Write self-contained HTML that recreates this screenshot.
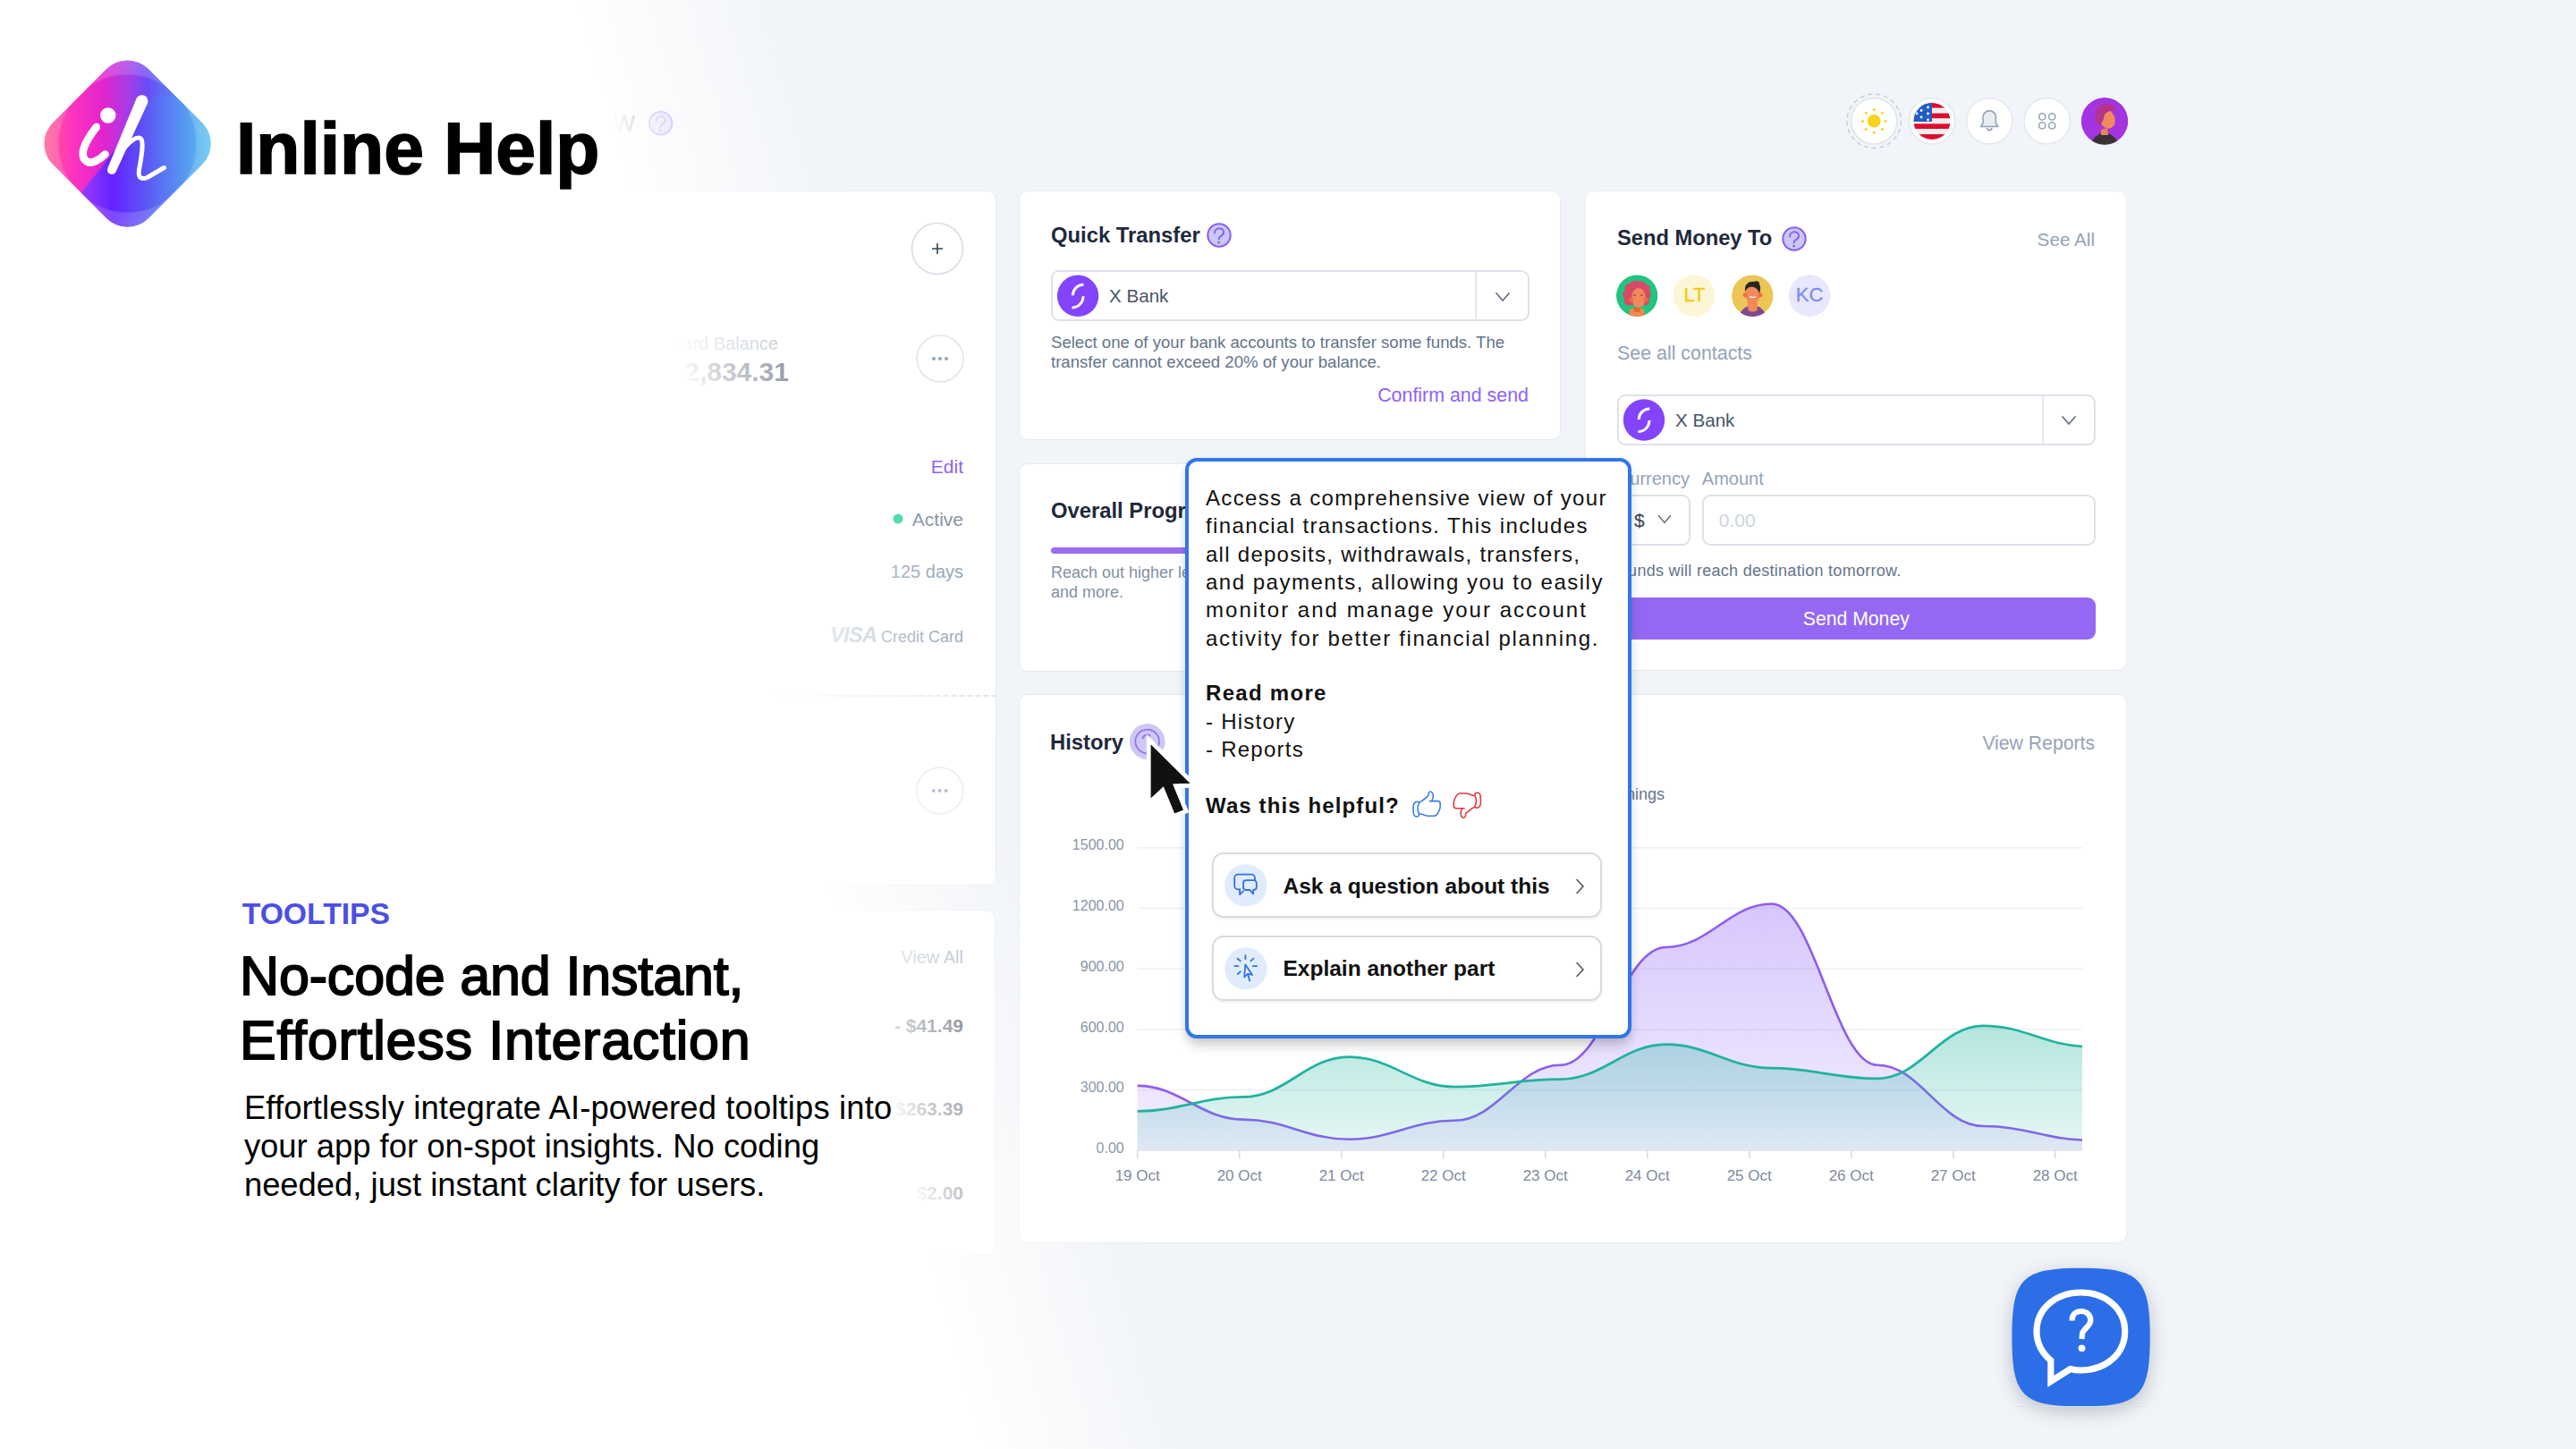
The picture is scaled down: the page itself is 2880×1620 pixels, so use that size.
<!DOCTYPE html>
<html><head><meta charset="utf-8"><title>Inline Help - Tooltips</title>
<style>
html,body{margin:0;padding:0;}
body{width:2880px;height:1620px;position:relative;overflow:hidden;background:#f1f4f8;font-family:"Liberation Sans",Arial,sans-serif;}
.t{position:absolute;white-space:nowrap;}
svg{display:block;}
</style></head><body>
<div class="t " style="top:115.32px;font-size:34px;line-height:40.8px;font-weight:400;color:#1e293b;right:2170px;text-align:right;">Overview</div>
<svg style="position:absolute;left:720px;top:120px;overflow:visible;" width="40" height="40" viewBox="720 120 40 40"><circle cx="738.7" cy="137.8" r="12.7" fill="#c9c8f4" stroke="#8b5cf6" stroke-width="2"/><path d="M733.70 135.40 C733.70 131.80 736.20 130.10 738.70 130.10 C741.70 130.10 743.90 132.00 743.90 134.60 C743.90 137.30 741.90 138.20 740.10 139.20 C738.80 140.00 738.30 140.80 738.30 142.20" fill="none" stroke="#8b5cf6" stroke-width="1.90" stroke-linecap="round"/><circle cx="738.30" cy="145.90" r="1.45" fill="#8b5cf6"/></svg>
<svg style="position:absolute;left:2060px;top:100px;overflow:visible;" width="330" height="75" viewBox="2060 100 330 75"><circle cx="2095.2" cy="135.4" r="30.2" fill="none" stroke="#c5ced9" stroke-width="1.5" stroke-dasharray="5 4"/><circle cx="2095.2" cy="135.4" r="25.6" fill="#fff" stroke="#dde3ea" stroke-width="1.5"/><circle cx="2095.2" cy="135.4" r="7.3" fill="#f9d21a"/><circle cx="2108.00" cy="135.40" r="1.5" fill="#f9d21a"/><circle cx="2104.25" cy="144.45" r="1.5" fill="#f9d21a"/><circle cx="2095.20" cy="148.20" r="1.5" fill="#f9d21a"/><circle cx="2086.15" cy="144.45" r="1.5" fill="#f9d21a"/><circle cx="2082.40" cy="135.40" r="1.5" fill="#f9d21a"/><circle cx="2086.15" cy="126.35" r="1.5" fill="#f9d21a"/><circle cx="2095.20" cy="122.60" r="1.5" fill="#f9d21a"/><circle cx="2104.25" cy="126.35" r="1.5" fill="#f9d21a"/><circle cx="2160" cy="135.4" r="25.6" fill="#fff" stroke="#e3e8ee" stroke-width="1.5"/><clipPath id="fc"><circle cx="2160" cy="135.4" r="20.5"/></clipPath><g clip-path="url(#fc)"><rect x="2138" y="114.90" width="45" height="5.9" fill="#dc0d2f"/><rect x="2138" y="120.76" width="45" height="5.9" fill="#eeeeee"/><rect x="2138" y="126.62" width="45" height="5.9" fill="#dc0d2f"/><rect x="2138" y="132.48" width="45" height="5.9" fill="#eeeeee"/><rect x="2138" y="138.34" width="45" height="5.9" fill="#dc0d2f"/><rect x="2138" y="144.20" width="45" height="5.9" fill="#eeeeee"/><rect x="2138" y="150.06" width="45" height="5.9" fill="#dc0d2f"/><rect x="2138" y="114" width="22" height="22" fill="#1f5fc6"/><circle cx="2155.5" cy="120" r="1.4" fill="#fff"/><circle cx="2148" cy="123.5" r="1.4" fill="#fff"/><circle cx="2155.5" cy="127" r="1.4" fill="#fff"/><circle cx="2148" cy="131" r="1.4" fill="#fff"/><circle cx="2155.5" cy="134" r="1.4" fill="#fff"/><circle cx="2143" cy="127" r="1.4" fill="#fff"/></g><circle cx="2224.2" cy="135.4" r="25.6" fill="#fff" stroke="#e3e8ee" stroke-width="1.5"/><path d="M2214.5 141.5 h19.4 l-2.5 -3.5 v-7 a7.2 7.2 0 0 0 -14.4 0 v7 z" fill="#e9edf2" stroke="#94a3b8" stroke-width="1.6" stroke-linejoin="round"/><path d="M2221.6 143 a2.6 2.6 0 0 0 5.2 0" fill="none" stroke="#94a3b8" stroke-width="1.6"/><circle cx="2288.7" cy="135.4" r="25.6" fill="#fff" stroke="#e3e8ee" stroke-width="1.5"/><circle cx="2283.2" cy="130.4" r="3.6" fill="none" stroke="#94a3b8" stroke-width="1.6"/><circle cx="2283.2" cy="140.4" r="3.6" fill="none" stroke="#94a3b8" stroke-width="1.6"/><circle cx="2294.2" cy="130.4" r="3.6" fill="none" stroke="#94a3b8" stroke-width="1.6"/><circle cx="2294.2" cy="140.4" r="3.6" fill="none" stroke="#94a3b8" stroke-width="1.6"/><clipPath id="ha"><circle cx="2353" cy="135.4" r="26.3"/></clipPath><g clip-path="url(#ha)"><circle cx="2353" cy="135.4" r="26.3" fill="#a334e0"/><path d="M2336 165 q3 -14 17 -17 q14 3 17 17 z" fill="#3a3232"/><path d="M2349 145 l7 -2 l1 8 l-8 0 z" fill="#e98659"/><ellipse cx="2356" cy="133" rx="8.5" ry="11" fill="#f08a5d" transform="rotate(-20 2356 133)"/><path d="M2343 128 q0 -12 12 -12 q10 0 11 8 q-8 -2 -13 4 q-2 10 -6 12 q-5 -3 -4 -12 z" fill="#b3338f"/></g></svg>
<div style="position:absolute;left:640px;top:213px;width:473.5px;height:777px;background:#fff;border:1.5px solid #e7ebf0;border-radius:10px;box-sizing:border-box;"></div>
<svg style="position:absolute;left:640px;top:213px;overflow:visible;" width="473" height="777" viewBox="640 213 473 777"><circle cx="1048" cy="278" r="28.5" fill="#fff" stroke="#d5dce5" stroke-width="1.5"/><path d="M1042 278 h12 M1048 272 v12" stroke="#334155" stroke-width="1.6"/><circle cx="1051" cy="401" r="26" fill="#fff" stroke="#e0e5ec" stroke-width="1.5"/><circle cx="1044" cy="401" r="2" fill="#94a3b8"/><circle cx="1051" cy="401" r="2" fill="#94a3b8"/><circle cx="1058" cy="401" r="2" fill="#94a3b8"/><circle cx="1050.7" cy="884" r="26" fill="#fff" stroke="#e0e5ec" stroke-width="1.5"/><circle cx="1043.7" cy="884" r="2" fill="#94a3b8"/><circle cx="1050.7" cy="884" r="2" fill="#94a3b8"/><circle cx="1057.7" cy="884" r="2" fill="#94a3b8"/><circle cx="1004" cy="580" r="5.5" fill="#34d3a0"/><line x1="640" y1="778" x2="1113" y2="778" stroke="#d5dbe3" stroke-width="1.5" stroke-dasharray="6 3"/></svg>
<div class="t " style="top:371.57px;font-size:20px;line-height:24.0px;font-weight:400;color:#94a3b8;right:2010px;text-align:right;">Card Balance</div>
<div class="t " style="top:398.21px;font-size:30px;line-height:36.0px;font-weight:700;color:#334155;right:1998px;text-align:right;">$12,834.31</div>
<div class="t " style="top:509.12px;font-size:21px;line-height:25.2px;font-weight:400;color:#9061f9;right:1803px;text-align:right;">Edit</div>
<div class="t " style="top:568.12px;font-size:21px;line-height:25.2px;font-weight:400;color:#8591a5;right:1803px;text-align:right;">Active</div>
<div class="t " style="top:626.77px;font-size:20px;line-height:24.0px;font-weight:400;color:#94a3b8;right:1803px;text-align:right;">125 days</div>
<div class="t " style="top:699.46px;font-size:18px;line-height:21.6px;font-weight:400;color:#94a3b8;right:1803px;text-align:right;"><span style="font-style:italic;font-weight:700;font-size:24px;color:#b8c2d0;letter-spacing:-1px">VISA</span> Credit Card</div>
<div style="position:absolute;left:640px;top:1017px;width:473px;height:387px;background:#fff;border:1.5px solid #e7ebf0;border-radius:10px;box-sizing:border-box;"></div>
<div class="t " style="top:1058.47px;font-size:20px;line-height:24.0px;font-weight:400;color:#94a3b8;right:1803px;text-align:right;">View All</div>
<div class="t " style="top:1134.12px;font-size:21px;line-height:25.2px;font-weight:700;color:#1e293b;right:1803px;text-align:right;">- $41.49</div>
<div class="t " style="top:1227.12px;font-size:21px;line-height:25.2px;font-weight:700;color:#1e293b;right:1803px;text-align:right;">- $263.39</div>
<div class="t " style="top:1320.82px;font-size:21px;line-height:25.2px;font-weight:700;color:#1e293b;right:1803px;text-align:right;">+ $2.00</div>
<div style="position:absolute;left:1138.5px;top:213px;width:606.5px;height:279px;background:#fff;border:1.5px solid #e7ebf0;border-radius:10px;box-sizing:border-box;"></div>
<div class="t " style="top:249.47px;font-size:23.8px;line-height:28.56px;font-weight:700;color:#1e293b;left:1175px;">Quick Transfer</div>
<div style="position:absolute;left:1175px;top:302px;width:535px;height:57px;border:2px solid #dde2e9;border-radius:9px;box-sizing:border-box;background:#fff;"></div>
<div style="position:absolute;left:1649px;top:303px;width:2px;height:55px;background:#e3e7ed;"></div>
<svg style="position:absolute;left:1160px;top:240px;overflow:visible;" width="580" height="130" viewBox="1160 240 580 130"><circle cx="1363" cy="263" r="12.7" fill="#c9c8f4" stroke="#8b5cf6" stroke-width="2"/><path d="M1358.00 260.60 C1358.00 257.00 1360.50 255.30 1363.00 255.30 C1366.00 255.30 1368.20 257.20 1368.20 259.80 C1368.20 262.50 1366.20 263.40 1364.40 264.40 C1363.10 265.20 1362.60 266.00 1362.60 267.40" fill="none" stroke="#8b5cf6" stroke-width="1.90" stroke-linecap="round"/><circle cx="1362.60" cy="271.10" r="1.45" fill="#8b5cf6"/><circle cx="1205.1" cy="330.8" r="23.2" fill="#8444fd"/><path d="M1211.3999999999999 318.2 A12 12 0 0 0 1199.3999999999999 330.2" fill="none" stroke="#fff" stroke-width="3" stroke-linecap="butt"/><path d="M1211.0 331.3 A12.4 12.4 0 0 1 1198.5 343.90000000000003" fill="none" stroke="#fff" stroke-width="3" stroke-linecap="butt"/><polyline points="1673 328 1680 336 1687 328" fill="none" stroke="#64748b" stroke-width="1.8" stroke-linecap="round" stroke-linejoin="round"/></svg>
<div class="t " style="top:318.50px;font-size:20.6px;line-height:24.72px;font-weight:400;color:#475569;left:1240px;">X Bank</div>
<div class="t " style="top:371.56px;font-size:18.6px;line-height:22px;font-weight:400;color:#64748b;left:1175px;">Select one of your bank accounts to transfer some funds. The<br>transfer cannot exceed 20% of your balance.</div>
<div class="t " style="top:430.04px;font-size:21.4px;line-height:25.68px;font-weight:400;color:#9061f9;right:1171px;text-align:right;">Confirm and send</div>
<div style="position:absolute;left:1138.5px;top:518px;width:606.5px;height:232.5px;background:#fff;border:1.5px solid #e7ebf0;border-radius:10px;box-sizing:border-box;"></div>
<div class="t " style="top:556.77px;font-size:23.8px;line-height:28.56px;font-weight:700;color:#1e293b;left:1175px;">Overall Progress</div>
<div style="position:absolute;left:1175px;top:612px;width:535px;height:6.5px;background:#ece7fd;border-radius:4px;"></div>
<div style="position:absolute;left:1175px;top:612px;width:420px;height:6.5px;background:#9b6cf2;border-radius:4px;"></div>
<div class="t " style="top:629.06px;font-size:18px;line-height:22px;font-weight:400;color:#8491a5;left:1175px;">Reach out higher levels of savings, investments<br>and more.</div>
<div style="position:absolute;left:1772px;top:213px;width:606px;height:537px;background:#fff;border:1.5px solid #e7ebf0;border-radius:10px;box-sizing:border-box;"></div>
<div class="t " style="top:252.07px;font-size:23.7px;line-height:28.44px;font-weight:700;color:#1e293b;left:1808px;">Send Money To</div>
<div class="t " style="top:256.41px;font-size:20.7px;line-height:24.84px;font-weight:400;color:#94a3b8;right:538px;text-align:right;">See All</div>
<svg style="position:absolute;left:1790px;top:240px;overflow:visible;" width="560" height="120" viewBox="1790 240 560 120"><circle cx="2006" cy="267" r="12.7" fill="#c9c8f4" stroke="#8b5cf6" stroke-width="2"/><path d="M2001.00 264.60 C2001.00 261.00 2003.50 259.30 2006.00 259.30 C2009.00 259.30 2011.20 261.20 2011.20 263.80 C2011.20 266.50 2009.20 267.40 2007.40 268.40 C2006.10 269.20 2005.60 270.00 2005.60 271.40" fill="none" stroke="#8b5cf6" stroke-width="1.90" stroke-linecap="round"/><circle cx="2005.60" cy="275.10" r="1.45" fill="#8b5cf6"/><clipPath id="av1"><circle cx="1830.2" cy="330.6" r="23.3"/></clipPath><g clip-path="url(#av1)"><circle cx="1830.2" cy="330.6" r="23.3" fill="#22c47f"/><path d="M1821 356 L1822 346 Q1830 342 1838 346 L1839 356 Z" fill="#f0894f"/><path d="M1826 344 L1834 344 L1833 349 L1827 349 Z" fill="#e2692d"/><path d="M1816 333 C1812 330 1815 326 1817 325 C1815 320 1819 316 1823 317 C1824 313 1830 313 1832 315 C1835 313 1840 315 1840 318 C1844 318 1846 322 1844 325 C1847 328 1846 333 1843 334 C1845 338 1843 342 1840 341 L1821 341 C1817 342 1815 338 1816 333 Z" fill="#d84966"/><ellipse cx="1832" cy="333" rx="7.8" ry="11" fill="#f08a5a"/><circle cx="1823.5" cy="335" r="2.6" fill="#f06a4a"/><circle cx="1840" cy="335" r="2.6" fill="#f06a4a"/><path d="M1826 330 h3 M1834 330 h3" stroke="#6b3a2a" stroke-width="1"/></g><circle cx="1894" cy="330.6" r="23.3" fill="#fdf6d6"/><clipPath id="av3"><circle cx="1959.3" cy="330.6" r="23.3"/></clipPath><g clip-path="url(#av3)"><circle cx="1959.3" cy="330.6" r="23.3" fill="#ecc655"/><path d="M1943 356 Q1946 345 1955 342 L1964 342 Q1973 345 1976 356 Z" fill="#7b4a8c"/><path d="M1953.5 334 L1965 334 L1964.5 347 Q1959.5 350 1954.5 347 Z" fill="#f08a5a"/><ellipse cx="1959.5" cy="328" rx="9" ry="10.5" fill="#f08a5a"/><circle cx="1951" cy="330" r="2.4" fill="#f06a4a"/><circle cx="1968" cy="330" r="2.4" fill="#f06a4a"/><path d="M1951 326 C1950 318 1955 314 1961 315 C1964 313 1968 315 1967 318 C1969 321 1968 325 1967 328 C1965 322 1961 320 1956 321 C1953 322 1952 324 1951 326 Z" fill="#2a2624"/><path d="M1956 331.5 q3.5 2 7 0" stroke="#fff" stroke-width="1.4" fill="none"/></g><circle cx="2023" cy="330.6" r="23.3" fill="#e7e8fb"/></svg>
<div class="t " style="top:317.48px;font-size:22px;line-height:26.4px;font-weight:400;color:#f5c816;left:894.5px;width:2000px;text-align:center;-webkit-text-stroke:0.4px #f5c816;">LT</div>
<div class="t " style="top:317.48px;font-size:22px;line-height:26.4px;font-weight:400;color:#7d8cf0;left:1023px;width:2000px;text-align:center;-webkit-text-stroke:0.3px #7d8cf0;">KC</div>
<div class="t " style="top:383.44px;font-size:21.4px;line-height:25.68px;font-weight:400;color:#94a3b8;left:1808px;">See all contacts</div>
<div style="position:absolute;left:1808px;top:441px;width:535px;height:57px;border:2px solid #dde2e9;border-radius:9px;box-sizing:border-box;background:#fff;"></div>
<div style="position:absolute;left:2282.5px;top:442px;width:2px;height:55px;background:#e3e7ed;"></div>
<svg style="position:absolute;left:1800px;top:430px;overflow:visible;" width="560" height="80" viewBox="1800 430 560 80"><circle cx="1838" cy="469.5" r="23.2" fill="#8444fd"/><path d="M1844.3 456.9 A12 12 0 0 0 1832.3 468.9" fill="none" stroke="#fff" stroke-width="3" stroke-linecap="butt"/><path d="M1843.9 470.0 A12.4 12.4 0 0 1 1831.4 482.6" fill="none" stroke="#fff" stroke-width="3" stroke-linecap="butt"/><polyline points="2306 466 2313 474 2320 466" fill="none" stroke="#64748b" stroke-width="1.8" stroke-linecap="round" stroke-linejoin="round"/></svg>
<div class="t " style="top:457.50px;font-size:20.6px;line-height:24.72px;font-weight:400;color:#475569;left:1873px;">X Bank</div>
<div class="t " style="top:523.47px;font-size:20px;line-height:24.0px;font-weight:400;color:#94a3b8;right:991px;text-align:right;">Currency</div>
<div class="t " style="top:523.47px;font-size:20px;line-height:24.0px;font-weight:400;color:#94a3b8;left:1902.8px;">Amount</div>
<div style="position:absolute;left:1808px;top:553px;width:82px;height:57px;border:2px solid #dde2e9;border-radius:9px;box-sizing:border-box;background:#fff;"></div>
<div style="position:absolute;left:1902.8px;top:553px;width:440px;height:57px;border:2px solid #dde2e9;border-radius:9px;box-sizing:border-box;background:#fff;"></div>
<div class="t " style="top:569.42px;font-size:21px;line-height:25.2px;font-weight:400;color:#334155;left:1827px;">$</div>
<svg style="position:absolute;left:1850px;top:570px;overflow:visible;" width="25" height="20" viewBox="1850 570 25 20"><polyline points="1854.5 576.7 1861 584.3 1867.5 576.7" fill="none" stroke="#64748b" stroke-width="1.6" stroke-linecap="round" stroke-linejoin="round"/></svg>
<div class="t " style="top:569.42px;font-size:21px;line-height:25.2px;font-weight:400;color:#cbd5e1;left:1921.8px;">0.00</div>
<div class="t " style="top:628.36px;font-size:18px;line-height:21.6px;font-weight:400;color:#64748b;letter-spacing:0.28px;right:754.4000000000001px;text-align:right;">Funds will reach destination tomorrow.</div>
<div style="position:absolute;left:1808px;top:668.3px;width:534.5px;height:46.3px;background:#9568f3;border-radius:9px;"></div>
<div class="t " style="top:678.73px;font-size:21.2px;line-height:25.44px;font-weight:400;color:#fff;left:1075.3000000000002px;width:2000px;text-align:center;">Send Money</div>
<div style="position:absolute;left:1138.5px;top:776px;width:1239.5px;height:613.5px;background:#fff;border:1.5px solid #e7ebf0;border-radius:10px;box-sizing:border-box;"></div>
<div class="t " style="top:816.07px;font-size:23.8px;line-height:28.56px;font-weight:700;color:#1e293b;left:1174px;">History</div>
<div class="t " style="top:817.73px;font-size:21.2px;line-height:25.44px;font-weight:400;color:#94a3b8;right:538px;text-align:right;">View Reports</div>
<div class="t " style="top:878.46px;font-size:18px;line-height:21.6px;font-weight:400;color:#64748b;right:1019px;text-align:right;"><span style="display:inline-block;width:12px;height:12px;border-radius:6px;background:#8b5cf6;margin-right:8px"></span>Expenses&nbsp;&nbsp;&nbsp;<span style="display:inline-block;width:12px;height:12px;border-radius:6px;background:#20b2a0;margin-right:8px"></span>Earnings</div>
<svg style="position:absolute;left:1260px;top:930px;overflow:visible;" width="1080" height="380" viewBox="1260 930 1080 380"><defs><linearGradient id="gp" x1="0" y1="947.8" x2="0" y2="1286.3" gradientUnits="userSpaceOnUse"><stop offset="0" stop-color="#9061f9" stop-opacity="0.42"/><stop offset="1" stop-color="#9061f9" stop-opacity="0.10"/></linearGradient><linearGradient id="gt" x1="0" y1="1120" x2="0" y2="1286.3" gradientUnits="userSpaceOnUse"><stop offset="0" stop-color="#1fb39e" stop-opacity="0.38"/><stop offset="1" stop-color="#1fb39e" stop-opacity="0.10"/></linearGradient></defs><line x1="1271.7" y1="947.8" x2="2328.0" y2="947.8" stroke="#edf0f5" stroke-width="1.5"/><line x1="1271.7" y1="1015.5" x2="2328.0" y2="1015.5" stroke="#edf0f5" stroke-width="1.5"/><line x1="1271.7" y1="1083.2" x2="2328.0" y2="1083.2" stroke="#edf0f5" stroke-width="1.5"/><line x1="1271.7" y1="1150.9" x2="2328.0" y2="1150.9" stroke="#edf0f5" stroke-width="1.5"/><line x1="1271.7" y1="1218.6" x2="2328.0" y2="1218.6" stroke="#edf0f5" stroke-width="1.5"/><clipPath id="chc"><rect x="1260" y="900" width="1068" height="400"/></clipPath><g clip-path="url(#chc)"><path d="M1271.7 1213.9 C1319.0 1213.9 1342.6 1251.6 1389.9 1251.6 C1437.2 1251.6 1460.8 1273.8 1508.1 1273.8 C1555.4 1273.8 1579.0 1252.8 1626.3 1252.8 C1673.6 1252.8 1697.2 1190.8 1744.5 1190.8 C1791.8 1190.8 1815.4 1059.0 1862.7 1059.0 C1910.0 1059.0 1933.6 1010.5 1980.9 1010.5 C2028.2 1010.5 2051.8 1190.8 2099.1 1190.8 C2146.4 1190.8 2170.0 1259.0 2217.3 1259.0 C2264.6 1259.0 2288.2 1274.6 2335.5 1274.6 L2335.5 1286.3 L1271.7 1286.3 Z" fill="url(#gp)"/><path d="M1271.7 1213.9 C1319.0 1213.9 1342.6 1251.6 1389.9 1251.6 C1437.2 1251.6 1460.8 1273.8 1508.1 1273.8 C1555.4 1273.8 1579.0 1252.8 1626.3 1252.8 C1673.6 1252.8 1697.2 1190.8 1744.5 1190.8 C1791.8 1190.8 1815.4 1059.0 1862.7 1059.0 C1910.0 1059.0 1933.6 1010.5 1980.9 1010.5 C2028.2 1010.5 2051.8 1190.8 2099.1 1190.8 C2146.4 1190.8 2170.0 1259.0 2217.3 1259.0 C2264.6 1259.0 2288.2 1274.6 2335.5 1274.6" fill="none" stroke="#8e5cf0" stroke-width="2.6"/><path d="M1271.7 1242.4 C1319.0 1242.4 1342.6 1226.4 1389.9 1226.4 C1437.2 1226.4 1460.8 1181.6 1508.1 1181.6 C1555.4 1181.6 1579.0 1215.1 1626.3 1215.1 C1673.6 1215.1 1697.2 1206.7 1744.5 1206.7 C1791.8 1206.7 1815.4 1167.7 1862.7 1167.7 C1910.0 1167.7 1933.6 1194.2 1980.9 1194.2 C2028.2 1194.2 2051.8 1205.9 2099.1 1205.9 C2146.4 1205.9 2170.0 1146.8 2217.3 1146.8 C2264.6 1146.8 2288.2 1170.2 2335.5 1170.2 L2335.5 1286.3 L1271.7 1286.3 Z" fill="url(#gt)"/><path d="M1271.7 1242.4 C1319.0 1242.4 1342.6 1226.4 1389.9 1226.4 C1437.2 1226.4 1460.8 1181.6 1508.1 1181.6 C1555.4 1181.6 1579.0 1215.1 1626.3 1215.1 C1673.6 1215.1 1697.2 1206.7 1744.5 1206.7 C1791.8 1206.7 1815.4 1167.7 1862.7 1167.7 C1910.0 1167.7 1933.6 1194.2 1980.9 1194.2 C2028.2 1194.2 2051.8 1205.9 2099.1 1205.9 C2146.4 1205.9 2170.0 1146.8 2217.3 1146.8 C2264.6 1146.8 2288.2 1170.2 2335.5 1170.2" fill="none" stroke="#1fb39e" stroke-width="2.7"/></g><line x1="1271.7" y1="1286.3" x2="2328.0" y2="1286.3" stroke="#e2e7ee" stroke-width="1.5"/><line x1="1271.7" y1="1286.3" x2="1271.7" y2="1295.3" stroke="#d5dbe3" stroke-width="1.5"/><line x1="1385.7" y1="1286.3" x2="1385.7" y2="1295.3" stroke="#d5dbe3" stroke-width="1.5"/><line x1="1499.7" y1="1286.3" x2="1499.7" y2="1295.3" stroke="#d5dbe3" stroke-width="1.5"/><line x1="1613.7" y1="1286.3" x2="1613.7" y2="1295.3" stroke="#d5dbe3" stroke-width="1.5"/><line x1="1727.7" y1="1286.3" x2="1727.7" y2="1295.3" stroke="#d5dbe3" stroke-width="1.5"/><line x1="1841.7" y1="1286.3" x2="1841.7" y2="1295.3" stroke="#d5dbe3" stroke-width="1.5"/><line x1="1955.7" y1="1286.3" x2="1955.7" y2="1295.3" stroke="#d5dbe3" stroke-width="1.5"/><line x1="2069.7" y1="1286.3" x2="2069.7" y2="1295.3" stroke="#d5dbe3" stroke-width="1.5"/><line x1="2183.7" y1="1286.3" x2="2183.7" y2="1295.3" stroke="#d5dbe3" stroke-width="1.5"/><line x1="2297.7" y1="1286.3" x2="2297.7" y2="1295.3" stroke="#d5dbe3" stroke-width="1.5"/></svg>
<div class="t " style="top:935.46px;font-size:16px;line-height:19.2px;font-weight:400;color:#8994a6;right:1623.3px;text-align:right;">1500.00</div>
<div class="t " style="top:1003.16px;font-size:16px;line-height:19.2px;font-weight:400;color:#8994a6;right:1623.3px;text-align:right;">1200.00</div>
<div class="t " style="top:1070.86px;font-size:16px;line-height:19.2px;font-weight:400;color:#8994a6;right:1623.3px;text-align:right;">900.00</div>
<div class="t " style="top:1138.56px;font-size:16px;line-height:19.2px;font-weight:400;color:#8994a6;right:1623.3px;text-align:right;">600.00</div>
<div class="t " style="top:1206.26px;font-size:16px;line-height:19.2px;font-weight:400;color:#8994a6;right:1623.3px;text-align:right;">300.00</div>
<div class="t " style="top:1273.96px;font-size:16px;line-height:19.2px;font-weight:400;color:#8994a6;right:1623.3px;text-align:right;">0.00</div>
<div class="t " style="top:1304.91px;font-size:17px;line-height:20.4px;font-weight:400;color:#7d8aa0;left:271.70000000000005px;width:2000px;text-align:center;">19 Oct</div>
<div class="t " style="top:1304.91px;font-size:17px;line-height:20.4px;font-weight:400;color:#7d8aa0;left:385.70000000000005px;width:2000px;text-align:center;">20 Oct</div>
<div class="t " style="top:1304.91px;font-size:17px;line-height:20.4px;font-weight:400;color:#7d8aa0;left:499.70000000000005px;width:2000px;text-align:center;">21 Oct</div>
<div class="t " style="top:1304.91px;font-size:17px;line-height:20.4px;font-weight:400;color:#7d8aa0;left:613.7px;width:2000px;text-align:center;">22 Oct</div>
<div class="t " style="top:1304.91px;font-size:17px;line-height:20.4px;font-weight:400;color:#7d8aa0;left:727.7px;width:2000px;text-align:center;">23 Oct</div>
<div class="t " style="top:1304.91px;font-size:17px;line-height:20.4px;font-weight:400;color:#7d8aa0;left:841.7px;width:2000px;text-align:center;">24 Oct</div>
<div class="t " style="top:1304.91px;font-size:17px;line-height:20.4px;font-weight:400;color:#7d8aa0;left:955.7px;width:2000px;text-align:center;">25 Oct</div>
<div class="t " style="top:1304.91px;font-size:17px;line-height:20.4px;font-weight:400;color:#7d8aa0;left:1069.6999999999998px;width:2000px;text-align:center;">26 Oct</div>
<div class="t " style="top:1304.91px;font-size:17px;line-height:20.4px;font-weight:400;color:#7d8aa0;left:1183.6999999999998px;width:2000px;text-align:center;">27 Oct</div>
<div class="t " style="top:1304.91px;font-size:17px;line-height:20.4px;font-weight:400;color:#7d8aa0;left:1297.6999999999998px;width:2000px;text-align:center;">28 Oct</div>
<svg style="position:absolute;left:1255px;top:800px;overflow:visible;" width="60" height="60" viewBox="1255 800 60 60"><circle cx="1282.7" cy="829" r="19.9" fill="#ccc9f4"/><circle cx="1282.7" cy="829" r="13.3" fill="none" stroke="#9d6cf5" stroke-width="1.7"/><path d="M1277.5 826 a5 5 0 0 1 8.5 -3" fill="none" stroke="#9d6cf5" stroke-width="1.8"/></svg>
<div style="position:absolute;left:0px;top:0px;width:2880px;height:1620px;background:linear-gradient(74.36deg, #fff 1059px, rgba(255,255,255,.78) 1098px, rgba(255,255,255,.6) 1146px, rgba(255,255,255,.35) 1204px, rgba(255,255,255,.15) 1252px, rgba(255,255,255,0) 1300px);"></div>
<div style="position:absolute;left:1324.5px;top:512.4px;width:499.5px;height:648.3px;background:#fff;border:4px solid #3276e8;border-radius:13px;box-sizing:border-box;box-shadow:0 9px 14px -2px rgba(0,0,0,0.2), 0 2px 6px rgba(0,0,0,0.05);"></div>
<div class="t " style="top:540.91px;font-size:24px;line-height:31.34px;font-weight:400;color:#111;left:1348px;"><span style="letter-spacing:1.35px">Access a comprehensive view of your</span><br><span style="letter-spacing:1.37px">financial transactions. This includes</span><br><span style="letter-spacing:1.27px">all deposits, withdrawals, transfers,</span><br><span style="letter-spacing:1.5px">and payments, allowing you to easily</span><br><span style="letter-spacing:2.02px">monitor and manage your account</span><br><span style="letter-spacing:1.67px">activity for better financial planning.</span></div>
<div class="t " style="top:760.98px;font-size:24px;line-height:28.8px;font-weight:700;color:#111;letter-spacing:1.3px;left:1348px;">Read more</div>
<div class="t " style="top:793.28px;font-size:24px;line-height:28.8px;font-weight:400;color:#111;letter-spacing:1.25px;left:1348px;">- History</div>
<div class="t " style="top:823.68px;font-size:24px;line-height:28.8px;font-weight:400;color:#111;letter-spacing:1.25px;left:1348px;">- Reports</div>
<div class="t " style="top:887.08px;font-size:24px;line-height:28.8px;font-weight:700;color:#111;letter-spacing:1.12px;left:1348px;">Was this helpful?</div>
<svg style="position:absolute;left:1570px;top:875px;overflow:visible;" width="95" height="50" viewBox="1570 875 95 50"><g transform="translate(1570 875)"><path d="M16.6 22.5 C18.5 21 19.5 20.5 20.6 19.9 C23 17.5 25.3 16.6 26.4 15 C27.3 13.6 26.5 10.6 28.8 10 C31 9.8 32.6 12.5 32.3 15.5 C32.1 17.5 31.4 19 31 20.5 L28.4 20.6 L38 20.6 C39.6 20.8 40.3 22 40.2 24 C40.2 26 40.3 27.5 40 28.5 C39.2 31.3 38.2 33.2 36.8 35.2 C35.8 36.6 34.8 37.2 33.5 37.3 L26.5 37.3 C24.5 37.2 22.5 36.2 20.5 35.6 C19 35.1 17.6 34.7 16.4 34.8 M12.6 21.7 C14.8 20.6 16.9 21.6 16.5 23 C15 26 14.8 31 16.4 34.8 C16.9 36.9 15.8 38 14 38 C12 38 10.6 36.6 10.3 34 C9.9 31 9.9 27.5 10.3 25 C10.6 23.3 11.4 22.3 12.6 21.7 Z" fill="none" stroke="#3b7fe6" stroke-width="1.6" stroke-linejoin="round"/></g><g transform="translate(1570 875) rotate(180 47.75 24.65)"><path d="M16.6 22.5 C18.5 21 19.5 20.5 20.6 19.9 C23 17.5 25.3 16.6 26.4 15 C27.3 13.6 26.5 10.6 28.8 10 C31 9.8 32.6 12.5 32.3 15.5 C32.1 17.5 31.4 19 31 20.5 L28.4 20.6 L38 20.6 C39.6 20.8 40.3 22 40.2 24 C40.2 26 40.3 27.5 40 28.5 C39.2 31.3 38.2 33.2 36.8 35.2 C35.8 36.6 34.8 37.2 33.5 37.3 L26.5 37.3 C24.5 37.2 22.5 36.2 20.5 35.6 C19 35.1 17.6 34.7 16.4 34.8 M12.6 21.7 C14.8 20.6 16.9 21.6 16.5 23 C15 26 14.8 31 16.4 34.8 C16.9 36.9 15.8 38 14 38 C12 38 10.6 36.6 10.3 34 C9.9 31 9.9 27.5 10.3 25 C10.6 23.3 11.4 22.3 12.6 21.7 Z" fill="none" stroke="#e0393e" stroke-width="1.6" stroke-linejoin="round"/></g></svg>
<div style="position:absolute;left:1355px;top:953.4px;width:435.6px;height:73.10000000000007px;background:#fff;border:2px solid #d9dbde;border-radius:13px;box-sizing:border-box;box-shadow:0 2px 3px rgba(0,0,0,0.06);"></div>
<div style="position:absolute;left:1355px;top:1046.4px;width:435.6px;height:72.59999999999995px;background:#fff;border:2px solid #d9dbde;border-radius:13px;box-sizing:border-box;box-shadow:0 2px 3px rgba(0,0,0,0.06);"></div>
<div class="t " style="top:976.31px;font-size:24.5px;line-height:29.4px;font-weight:700;color:#111;left:1434.5px;">Ask a question about this</div>
<div class="t " style="top:1068.21px;font-size:24.5px;line-height:29.4px;font-weight:700;color:#111;left:1434.5px;">Explain another part</div>
<svg style="position:absolute;left:1360px;top:955px;overflow:visible;" width="430" height="170" viewBox="1360 955 430 170"><circle cx="1392.9" cy="989.9" r="23.7" fill="#e0ebfb"/><g transform="translate(1365 962)" fill="none" stroke="#3471e0" stroke-width="1.8" stroke-linejoin="round" stroke-linecap="round"><path d="M21.1 32.3 H19 a3.8 3.8 0 0 1 -3.8 -3.8 V19.5 a3.8 3.8 0 0 1 3.8 -3.8 H34.2 a3.8 3.8 0 0 1 3.8 3.8 V22.2"/><path d="M21.1 32.3 V38 L25 34.3"/><path d="M28.2 22.2 H36.6 a3.2 3.2 0 0 1 3.2 3.2 V29.8 a3.2 3.2 0 0 1 -3.2 3.2 H36.1 V37.4 L32.3 33 H28.2 a3.2 3.2 0 0 1 -3.2 -3.2 V25.4 a3.2 3.2 0 0 1 3.2 -3.2 Z"/></g><circle cx="1392.9" cy="1082.9" r="23.7" fill="#e0ebfb"/><g transform="translate(1365 1055)" fill="none" stroke="#3471e0" stroke-width="1.8" stroke-linejoin="round" stroke-linecap="round"><path d="M27.3 23.5 L26.2 37.4 L30 33.8 L35.1 34.9 Z"/><path d="M30 33.8 L32.1 41.6"/><path d="M27.4 13.1 V17.1 M18.6 16.7 L21.8 19.4 M36.4 16.7 L33.4 19.4 M15.4 25.2 H19.4 M35.9 25.2 H40.2 M21.8 31.3 L18.8 34"/></g><polyline points="1763 983.5 1770 991 1763 998.5" fill="none" stroke="#555" stroke-width="1.6" stroke-linecap="round" stroke-linejoin="round"/><polyline points="1763 1076.5 1770 1084 1763 1091.5" fill="none" stroke="#555" stroke-width="1.6" stroke-linecap="round" stroke-linejoin="round"/></svg>
<svg style="position:absolute;left:1270px;top:810px;overflow:visible;" width="70" height="110" viewBox="1270 810 70 110"><polygon points="1286.8,832.7 1330.3,875.7 1310.8,876.2 1322.8,905.5 1313.3,909.3 1300.9,879 1286.8,891.9" fill="#111" stroke="#fff" stroke-width="10" stroke-linejoin="miter" stroke-miterlimit="6" paint-order="stroke"/><polygon points="1286.8,832.7 1330.3,875.7 1310.8,876.2 1322.8,905.5 1313.3,909.3 1300.9,879 1286.8,891.9" fill="#111"/></svg>
<svg style="position:absolute;left:2230px;top:1400px;overflow:visible;filter:drop-shadow(0 6px 10px rgba(30,41,59,0.25));" width="200" height="200" viewBox="2230 1400 200 200"><path d="M2326.5 1417.8 C2392 1417.8 2403.7 1429.5 2403.7 1495 C2403.7 1560.7 2392 1572.4 2326.5 1572.4 C2261 1572.4 2249.4 1560.7 2249.4 1495 C2249.4 1429.5 2261 1417.8 2326.5 1417.8 Z" fill="#2b6ee8"/><path d="M2292.8 1521 C2280 1510 2277 1499 2277 1488.5 C2277 1462 2300 1445 2326.3 1445 C2354 1445 2375.7 1463 2375.7 1488.5 C2375.7 1514 2354 1532 2326.3 1532 C2322 1532 2318 1531.5 2314.5 1530.6 L2292.8 1544.5 Z" fill="none" stroke="#fff" stroke-width="7.2" stroke-linejoin="miter"/><path d="M2316.5 1476.5 C2316.5 1469.5 2321 1466 2326.8 1466 C2332.8 1466 2337.3 1470 2337.3 1476 C2337.3 1483 2329.5 1485 2328 1491 L2327.5 1497" fill="none" stroke="#fff" stroke-width="6.2" stroke-linecap="butt"/><circle cx="2327.5" cy="1507.3" r="3.9" fill="#fff"/></svg>
<div style="position:absolute;left:2254px;top:1572px;width:145px;height:1px;background:#dbe2ec;"></div>
<svg style="position:absolute;left:40px;top:55px;overflow:visible;" width="210" height="210" viewBox="40 55 210 210"><defs><clipPath id="lgc"><rect x="67" y="85" width="151" height="151" rx="33" transform="rotate(45 142.5 160.5)"/></clipPath><linearGradient id="lgg" x1="49" y1="0" x2="236" y2="0" gradientUnits="userSpaceOnUse"><stop offset="0" stop-color="#ff5e84"/><stop offset="0.17" stop-color="#ff34c0"/><stop offset="0.35" stop-color="#e424cc"/><stop offset="0.5" stop-color="#a93be6"/><stop offset="0.62" stop-color="#6a4cf6"/><stop offset="0.78" stop-color="#5b82f1"/><stop offset="0.9" stop-color="#5cc6ec"/><stop offset="1" stop-color="#6ee8c4"/></linearGradient><linearGradient id="lgb" x1="90" y1="0" x2="236" y2="0" gradientUnits="userSpaceOnUse"><stop offset="0" stop-color="#9a3cff"/><stop offset="0.25" stop-color="#6422ff"/><stop offset="0.55" stop-color="#5a62f4"/><stop offset="1" stop-color="#55c6ee"/></linearGradient><radialGradient id="lgr" cx="142.5" cy="160.5" r="95" gradientUnits="userSpaceOnUse"><stop offset="0.80" stop-color="#fff" stop-opacity="0"/><stop offset="0.82" stop-color="#fff" stop-opacity="0.16"/><stop offset="1" stop-color="#fff" stop-opacity="0.2"/></radialGradient></defs><g clip-path="url(#lgc)"><rect x="40" y="60" width="210" height="210" fill="url(#lgg)"/><path d="M90 216 C120 180 150 140 170 108 C190 100 230 120 240 150 L240 270 L60 270 Z" fill="url(#lgb)"/><rect x="40" y="60" width="210" height="210" fill="url(#lgr)"/></g><circle cx="120.8" cy="129" r="8.7" fill="#fff"/><path d="M107.8 142 C100 152 93.5 162 92.8 170.5 C92 180 99 183.5 106 180.5 C110.5 178.5 114.5 175.5 117.5 172.5" fill="none" stroke="#fff" stroke-width="8.6" stroke-linecap="round"/><polygon points="164.9,115.8 152.5,110.2 120.4,188 129.6,192" fill="#fff"/><circle cx="158.7" cy="113" r="6.8" fill="#fff"/><circle cx="125" cy="190" r="5" fill="#fff"/><path d="M136.5 168.5 C146 157 152 152.5 157 154.5 C161.5 158 158 176 155.5 190 C154 199 158 201 164.5 198.5 L183.5 187.5" fill="none" stroke="#fff" stroke-width="5" stroke-linecap="round" stroke-linejoin="round"/></svg>
<div class="t" style="left:263.5px;-webkit-text-stroke:1.6px #000;top:116.09px;font-size:82px;line-height:100px;font-weight:700;color:#000;transform:scaleX(0.98);transform-origin:0 0;">Inline Help</div>
<div class="t " style="top:1001.10px;font-size:33.7px;line-height:40.44px;font-weight:700;color:#4b50e3;left:270.7px;">TOOLTIPS</div>
<div class="t " style="top:1056.16px;font-size:61px;line-height:71.8px;font-weight:400;color:#000;left:268px;-webkit-text-stroke:1.8px #000;"><span style="letter-spacing:-0.15px">No-code and Instant,</span><br><span style="letter-spacing:0.75px">Effortless Interaction</span></div>
<div class="t " style="top:1217.49px;font-size:36.4px;line-height:43px;font-weight:400;color:#000;left:272.9px;"><span style="letter-spacing:0.15px">Effortlessly integrate AI-powered tooltips into</span><br>your app for on-spot insights. No coding<br>needed, just instant clarity for users.</div>
</body></html>
